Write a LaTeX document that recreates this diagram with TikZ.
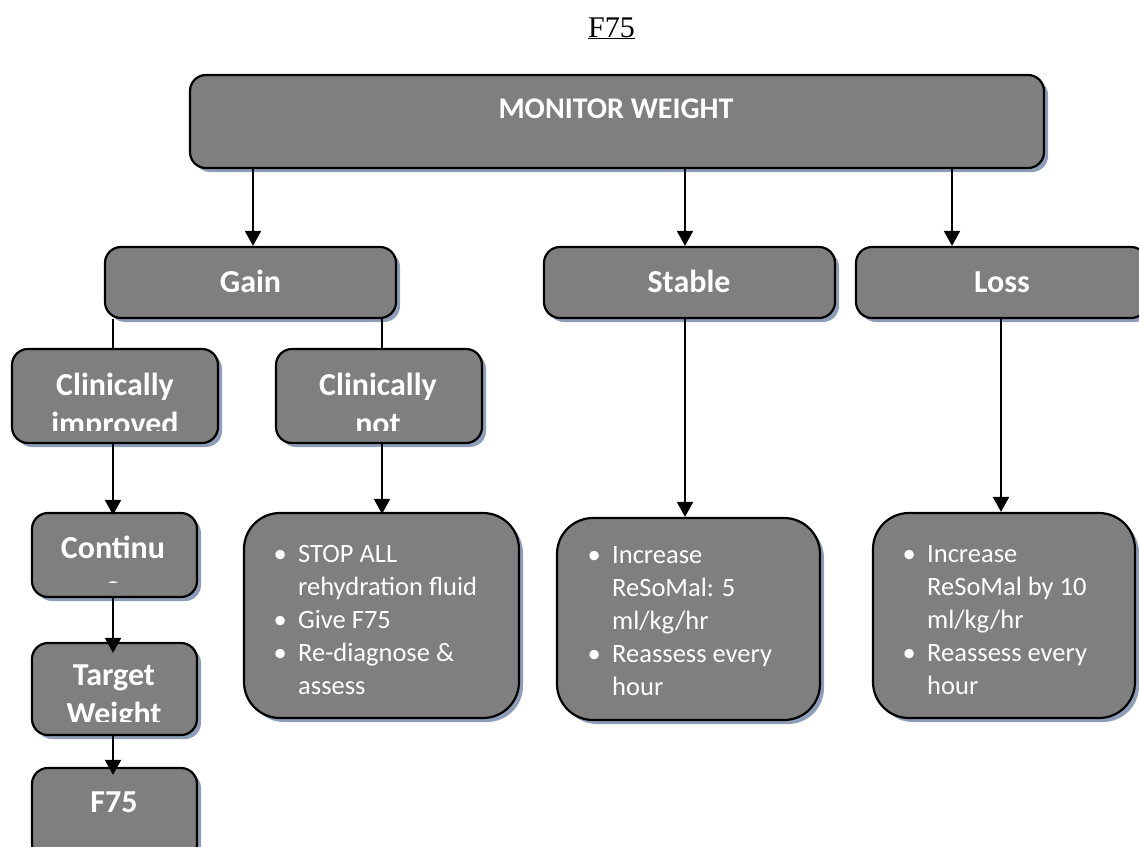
\documentclass[tikz,border=0pt]{standalone}
\usepackage{fontspec}
\setmainfont{Carlito}
\newfontfamily\titlefont{Liberation Serif}
\usetikzlibrary{shadows,arrows.meta}
\definecolor{boxgray}{RGB}{127,127,127}
\definecolor{shadowblue}{RGB}{142,158,184}
\newcommand{\bul}{\llap{\textbullet\hspace{11.5pt}}}
\begin{document}
\begin{tikzpicture}[x=1pt,y=-1pt,
  box/.style={draw=black, line width=2.2pt, fill=boxgray, rounded corners=16pt,
    drop shadow={shadow xshift=4pt, shadow yshift=-4pt, fill=shadowblue, opacity=1},
    inner sep=0pt},
  bigbox/.style={box, rounded corners=36pt},
  lbl/.style={font=\fontsize{32}{39}\selectfont\bfseries, text=white, anchor=base, inner sep=0pt},
  blt/.style={font=\fontsize{26.5}{33}\selectfont, text=white, anchor=base west, align=left, inner sep=0pt},
  conn/.style={line width=2pt},
  arr/.style={conn, -{Triangle[width=16pt,length=15pt]}}]
\useasboundingbox (0,0) rectangle (1139,846);

% title
\node[font=\titlefont\fontsize{30}{36}\selectfont, anchor=base, inner sep=0pt] (title) at (611.5,37) {\underline{F75}};

% boxes
\node[box, minimum width=854, minimum height=93] (monitor) at (617,121.5) {};
\node[box, minimum width=291, minimum height=71] (gain) at (250.5,282.5) {};
\node[box, minimum width=291, minimum height=71] (stable) at (689.5,282.5) {};
\node[box, minimum width=291, minimum height=71] (loss) at (1001.5,282.5) {};
\node[box, minimum width=206, minimum height=94] (climp) at (115,396) {};
\node[box, minimum width=206, minimum height=94] (clnot) at (379,396) {};
\node[box, minimum width=165, minimum height=84] (cont) at (114.5,555) {};
\node[box, minimum width=165, minimum height=92] (target) at (114.5,689) {};
\node[box, minimum width=165, minimum height=92] (f75) at (114.5,814) {};
\node[bigbox, minimum width=275, minimum height=205] (act1) at (381.5,615.5) {};
\node[bigbox, minimum width=263, minimum height=202] (act2) at (688.5,619) {};
\node[bigbox, minimum width=262, minimum height=205] (act3) at (1004,615.5) {};

% labels
\node[lbl, font=\fontsize{30}{36}\selectfont\bfseries] (tmon) at (616,118) {MONITOR WEIGHT};
\node[lbl] (tgain) at (250.5,292) {Gain};
\node[lbl] (tstable) at (689,292) {Stable};
\node[lbl] (tloss) at (1002,292) {Loss};
\node[lbl] (tf75) at (114,812) {F75};
\node[lbl] (tcont) at (113,558) {Continu};
\node[lbl] (ttarget) at (114,685) {Target};
\node[lbl] (tclimp) at (115,395) {Clinically};
\node[lbl] (tclnot) at (378,395) {Clinically};
\begin{scope}
  \clip (12,349) rectangle (218,430);
  \node[lbl] (tclimp2) at (115,434) {improved};
\end{scope}
\begin{scope}
  \clip (276,349) rectangle (482,430);
  \node[lbl] (tclnot2) at (378,434) {not};
\end{scope}
\begin{scope}
  \clip (32,513) rectangle (197,582);
  \node[lbl] (tcont2) at (113,597) {e};
\end{scope}
\begin{scope}
  \clip (32,643) rectangle (197,721);
  \node[lbl] (ttarget2) at (114,724) {Weight};
\end{scope}

% bullet texts (anchor at the baseline of the last line)
\node[blt] (b1) at (298,694) {\bul STOP ALL\\rehydration fluid\\\bul Give F75\\\bul Re-diagnose \&\\assess};
\node[blt] (b2) at (612,695) {\bul Increase\\ReSoMal: 5\\ml/kg/hr\\\bul Reassess every\\hour};
\node[blt] (b3) at (927,694) {\bul Increase\\ReSoMal by 10\\ml/kg/hr\\\bul Reassess every\\hour};

% connector coordinates
\coordinate (xg) at ([xshift=2.5pt]gain.north);
\coordinate (xs) at ([xshift=-4.5pt]stable.north);
\coordinate (xl) at ([xshift=-49.5pt]loss.north);
\coordinate (xi) at ([xshift=-2pt]climp.north);
\coordinate (xn) at ([xshift=3pt]clnot.north);
\coordinate (xls) at ([xshift=-0.5pt]loss.south);

\draw[arr] (xg |- monitor.south) -- (xg);
\draw[arr] (xs |- monitor.south) -- (xs);
\draw[arr] (xl |- monitor.south) -- (xl);
\draw[conn] (xi |- gain.south) -- (xi);
\draw[conn] (xn |- gain.south) -- (xn);
\draw[arr] (xi |- climp.south) -- ([yshift=-3pt]xi |- cont.north);
\draw[arr] (xn |- clnot.south) -- ([yshift=-2pt]xn |- act1.north);
\draw[arr] (xs |- stable.south) -- (xs |- act2.north);
\draw[arr] (xls) -- (xls |- act3.north);
\draw[arr] (xi |- cont.south) -- ([yshift=-11pt]xi |- target.north);
\draw[arr] (xi |- target.south) -- ([yshift=-8pt]xi |- f75.north);
\end{tikzpicture}
\end{document}
